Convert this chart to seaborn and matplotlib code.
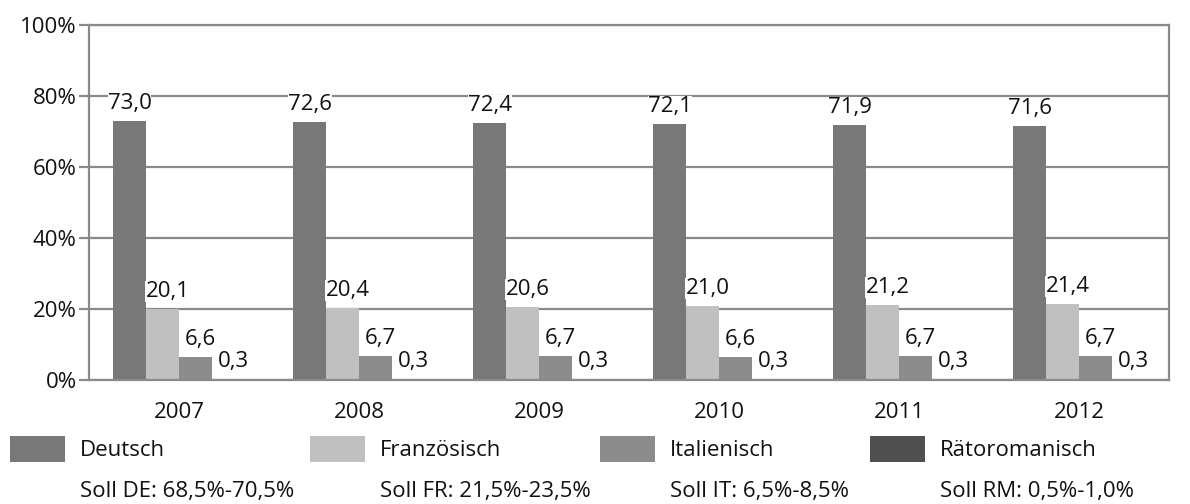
import pandas as pd
import seaborn as sns
from matplotlib import pyplot as plt

years = ['2007', '2008', '2009', '2010', '2011', '2012']
languages = ['Deutsch', 'Französisch', 'Italienisch', 'Rätoromanisch']
deutsch = [73.0, 72.6, 72.4, 72.1, 71.9, 71.6]
franz = [20.1, 20.4, 20.6, 21.0, 21.2, 21.4]
ital = [6.6, 6.7, 6.7, 6.6, 6.7, 6.7]
roman = [0.3, 0.3, 0.3, 0.3, 0.3, 0.3]
soll = ['Soll DE: 68,5%-70,5%', 'Soll FR: 21,5%-23,5%',
        'Soll IT: 6,5%-8,5%', 'Soll RM: 0,5%-1,0%']
colors = ['#787878', '#c0c0c0', '#8c8c8c', '#505050']

df = pd.DataFrame({'Jahr': years * 4,
                   'Sprache': [l for l in languages for _ in years],
                   'Anteil': deutsch + franz + ital + roman})

sns.set_theme(style='white')
plt.rcParams['font.family'] = ['Open Sans', 'DejaVu Sans']
fs = 16

fig = plt.figure(figsize=(11.9, 5.04), dpi=100)
ax = fig.add_axes([0.0748, 0.246, 0.9076, 0.704])
sns.barplot(data=df, x='Jahr', y='Anteil', hue='Sprache', hue_order=languages,
            palette=colors, width=0.733, gap=0, saturation=1, ax=ax,
            legend=False, linewidth=0, zorder=2)

# Werte über den Balken, mit Komma; kleine Verschiebung nach rechts
for i, cont in enumerate(ax.containers):
    anns = ax.bar_label(cont, labels=[f'{v:.1f}'.replace('.', ',') for v in cont.datavalues],
                        padding=5, fontsize=fs, color='#111111', zorder=3,
                        bbox=dict(facecolor='white', edgecolor='none', pad=0))
    if i > 0:
        for a in anns:
            a.xyann = (3.5, 5)

ax.set_ylim(0, 100)
ax.set_yticks(range(0, 101, 20))
ax.set_yticklabels([f'{t}%' for t in range(0, 101, 20)])
ax.yaxis.grid(True, color='#8a8a8a', linewidth=1.6, zorder=0)
ax.set_axisbelow(True)
for s in ax.spines.values():
    s.set_color('#8a8a8a')
    s.set_linewidth(1.6)
ax.tick_params(axis='y', length=7, width=1.6, color='#8a8a8a', left=True,
               labelsize=fs, labelcolor='#111111', pad=2)
ax.tick_params(axis='x', length=0, labelsize=fs, labelcolor='#111111', pad=16)
ax.set_xlabel('')
ax.set_ylabel('')

# Legende unten, von Hand gesetzt
xs = [10, 310, 600, 870]
for i, lang in enumerate(languages):
    x = xs[i] / 1190
    fig.patches.append(plt.Rectangle(
        (x, 1 - 462 / 504), 55 / 1190, 26 / 504, transform=fig.transFigure,
        facecolor=colors[i], edgecolor='none'))
    fig.text(x + 70 / 1190, 1 - 450 / 504, lang, va='center', fontsize=fs, color='#111111')
    fig.text(x + 70 / 1190, 1 - 492 / 504, soll[i], va='center', fontsize=fs, color='#111111')

plt.savefig('out.png', dpi=100)
